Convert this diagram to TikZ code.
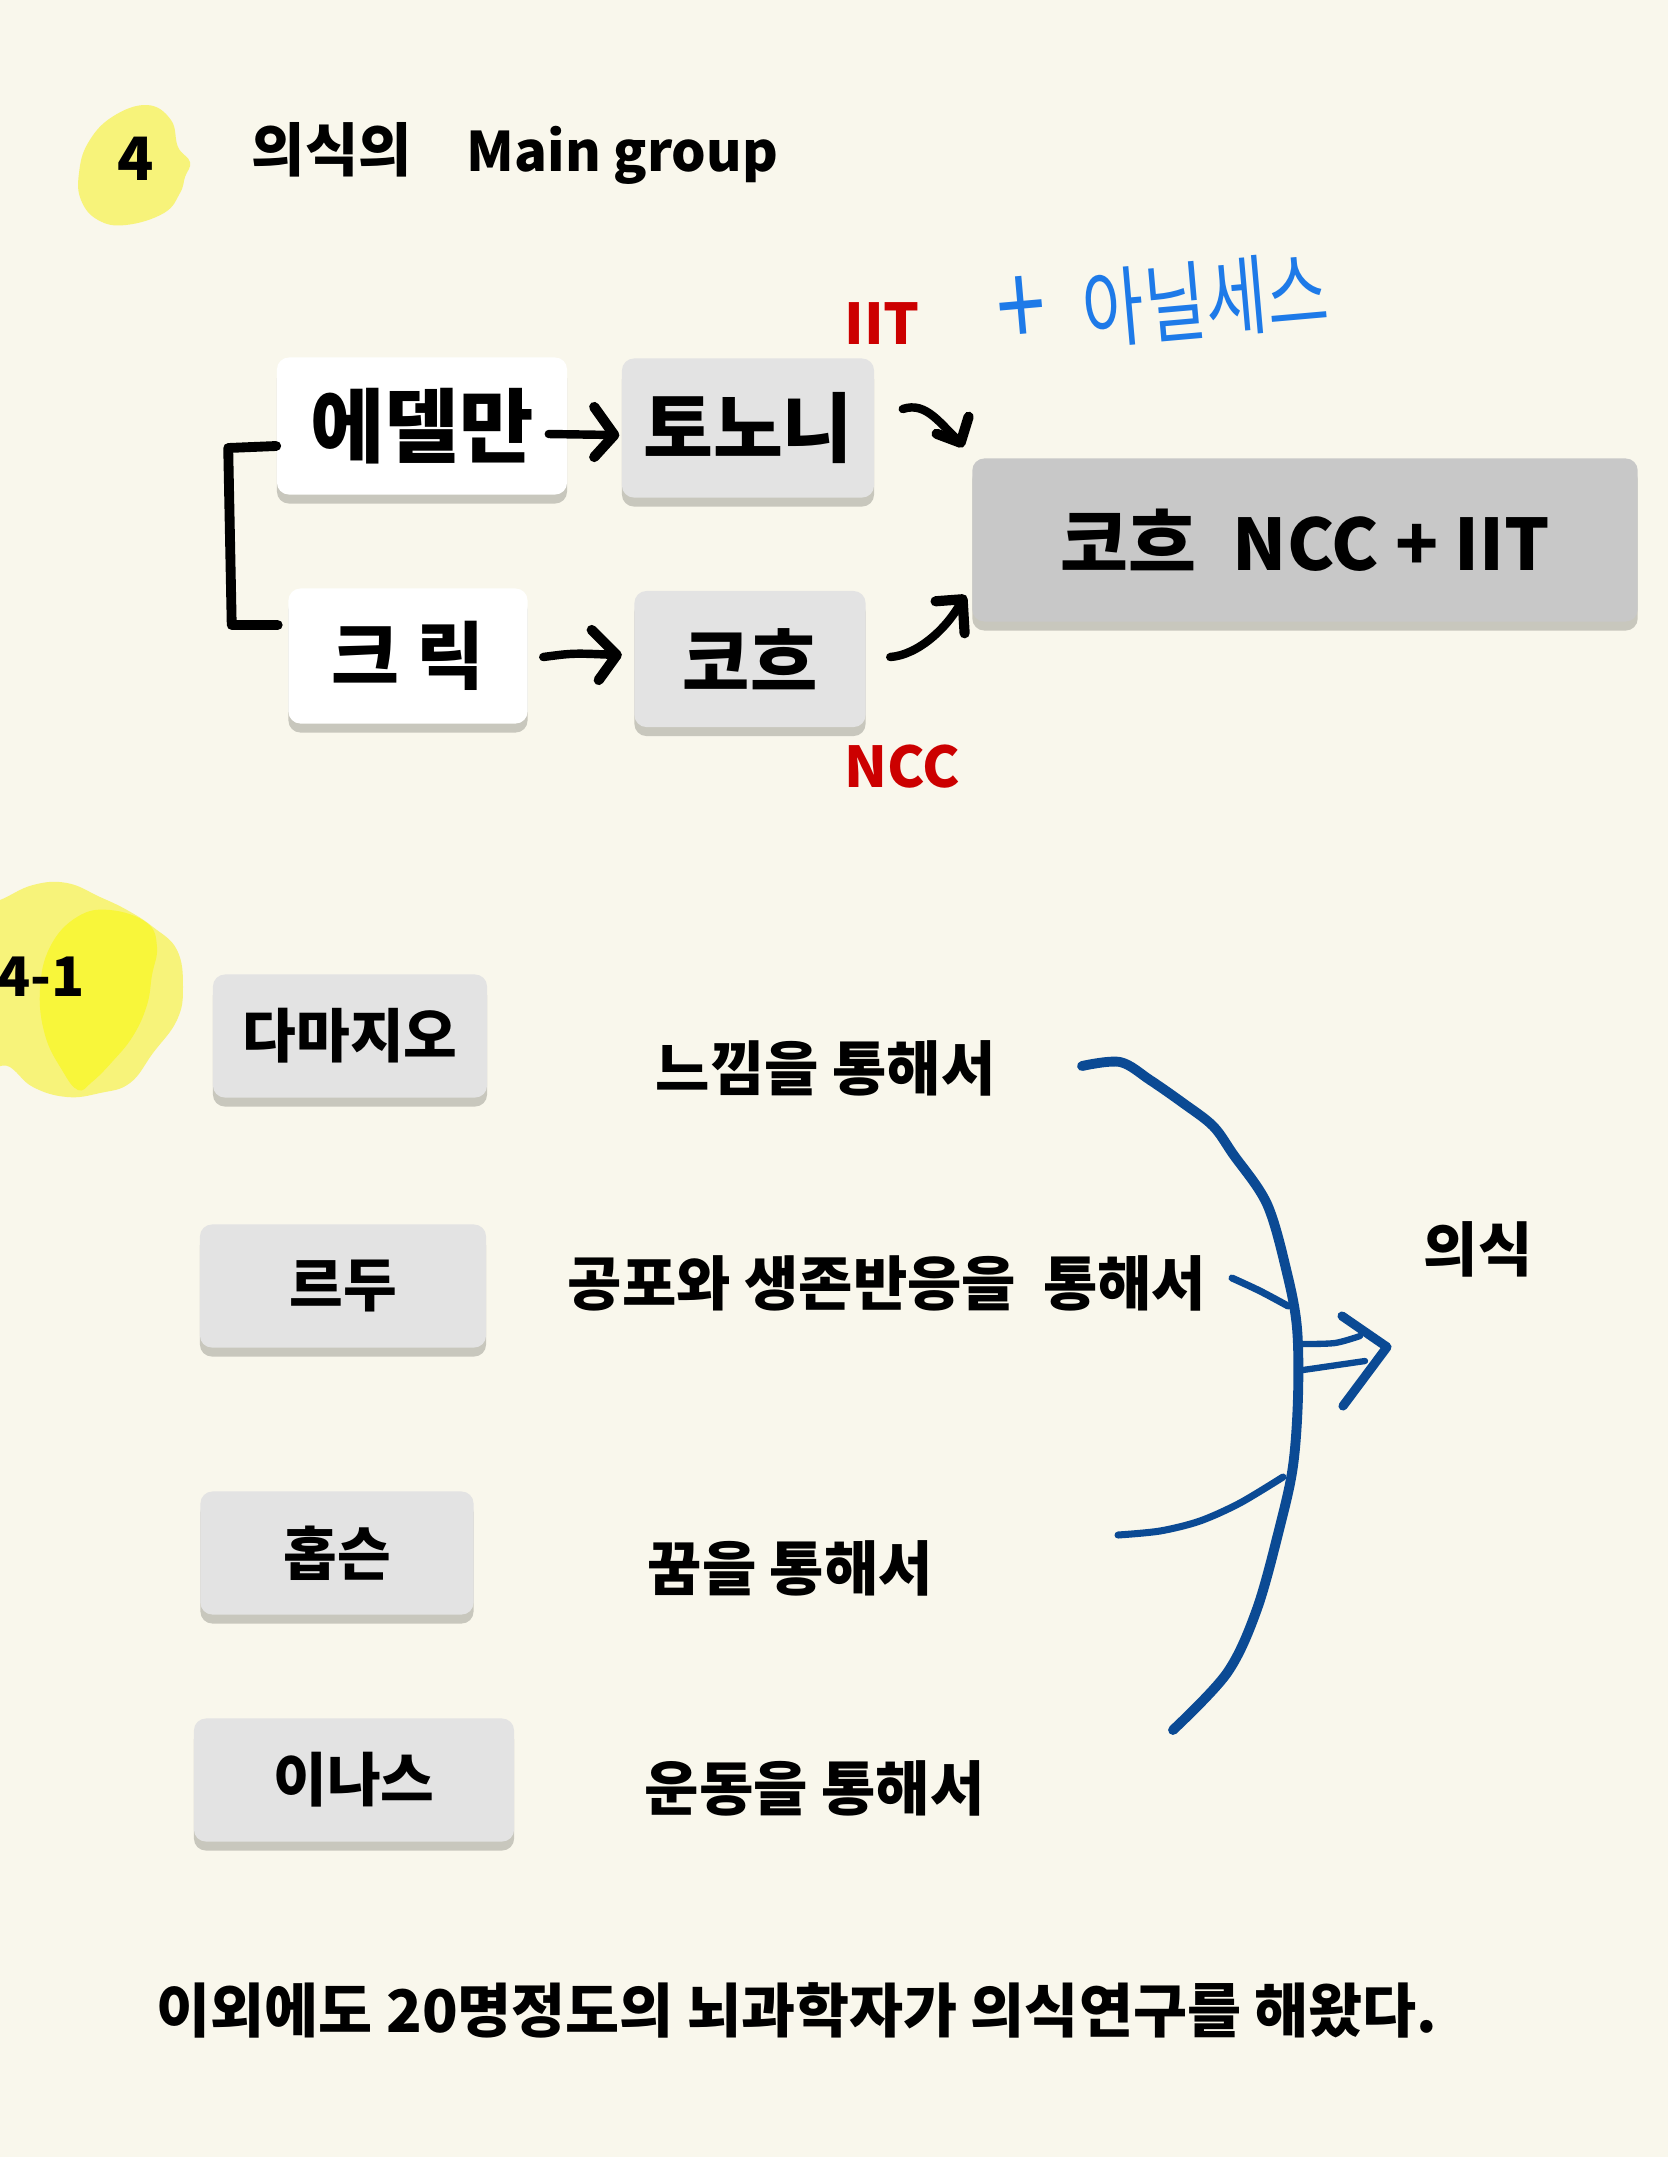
\documentclass[tikz,border=0pt]{standalone}
\usepackage{fontspec}
\setmainfont{Noto Sans CJK KR}
\usetikzlibrary{calc}
\definecolor{bgc}{RGB}{249,247,236}
\definecolor{lgray}{RGB}{227,227,227}
\definecolor{mgray}{RGB}{200,200,200}
\definecolor{shadowc}{RGB}{200,199,189}
\definecolor{redc}{RGB}{204,0,0}
\definecolor{bluec}{RGB}{11,74,148}
\definecolor{hblue}{RGB}{30,122,232}
\definecolor{yelpale}{RGB}{247,243,122}
\definecolor{yelbright}{RGB}{248,246,58}
\newcommand{\myfs}[1]{\fontsize{#1}{#1}\selectfont}
\tikzset{
  boxbase/.style={rounded corners=0.12cm, inner sep=0pt,
    preaction={fill=shadowc, transform canvas={yshift=-0.09cm}}},
  wbox/.style={boxbase, fill=white, font=\bfseries\myfs{21}},
  gbox/.style={boxbase, fill=lgray, font=\bfseries\myfs{21}},
  sbox/.style={boxbase, fill=lgray, font=\bfseries\myfs{16.6}, minimum height=1.23cm},
  bigbox/.style={boxbase, fill=mgray, font=\bfseries\myfs{21}},
  lbl/.style={inner sep=0pt, anchor=west, font=\bfseries\myfs{16.8}},
  redlbl/.style={inner sep=0pt, text=redc, font=\bfseries\myfs{16}},
  blk/.style={line width=2.4pt, line cap=round, line join=round, black},
  blkhead/.style={line width=2.9pt, line cap=round, line join=round, black},
  arcline/.style={line width=2.8pt, line cap=round, line join=round, bluec},
  branch/.style={line width=2pt, line cap=round, line join=round, bluec},
}
\begin{document}
\begin{tikzpicture}[x=0.01cm, y=-0.01cm]
\useasboundingbox (0,0) rectangle (1668,2157);
\fill[bgc] (0,0) rectangle (1668,2157);

% yellow highlight blobs
\fill[yelpale] plot[smooth cycle, tension=0.7] coordinates {(147,105) (171,120) (178,147) (190,162) (185,177) (180,193) (164,213) (126,225) (98,220) (81,200) (79,173) (88,143) (112,117)};
\fill[yelpale] plot[smooth cycle, tension=0.7] coordinates {(-20,905) (0,900) (33,885) (67,883) (100,897) (127,910) (153,927) (177,950) (183,987) (177,1020) (153,1053) (130,1083) (100,1093) (67,1097) (33,1087) (10,1067) (-20,1050)};
\fill[yelbright] plot[smooth cycle, tension=0.7] coordinates {(40,990) (50,947) (77,917) (110,910) (147,923) (157,947) (152,975) (147,1005) (133,1036) (112,1062) (92,1082) (78,1090) (62,1070) (45,1035)};

% titles
\node[inner sep=0pt, font=\bfseries\myfs{17}] (n4) at (136,159) {4};
\node[inner sep=0pt, anchor=west, font=\bfseries\myfs{16.5}] (title) at (251,153) {의식의\hspace{0.95em}{\myfs{15.5}Main group}};
\node[inner sep=0pt, anchor=west, font=\bfseries\myfs{15.5}] (n41) at (-3,977) {4-1};

% top diagram boxes
\node[wbox, minimum width=2.90cm, minimum height=1.37cm, font=\bfseries\myfs{23}] (edel) at (422,426) {에델만};
\node[gbox, minimum width=2.52cm, minimum height=1.39cm, font=\bfseries\myfs{21.6}] (tono) at (748,428) {토노니};
\node[wbox, minimum width=2.39cm, minimum height=1.35cm] (crick) at (408,656) {크 릭};
\node[gbox, minimum width=2.31cm, minimum height=1.36cm, font=\bfseries\myfs{20.8}] (koch) at (750,659) {코흐};
\node[bigbox, minimum width=6.65cm, minimum height=1.63cm] (big) at (1305,540) {코흐\hspace{0.5em}{\myfs{20.2}NCC + IIT}};

\node[redlbl] (iit) at (882,324) {IIT};
\node[redlbl] (ncc) at (902,767) {NCC};
\node[inner sep=0pt, text=hblue, font=\myfs{19}, rotate=5, yscale=1.3] (seth) at (1163,303) {{\myfs{25}+}\hspace{0.55em}아닐세스};

% bracket
\draw[line width=2.8pt, line cap=round, line join=round]
  ($(edel.west)+(0,20)$) -- ($(edel.west)+(-48,22)$)
  -- ($(crick.west)+(-56,-31)$) -- ($(crick.west)+(-10,-31)$);

% arrows top
\coordinate (e1s) at ($(edel.east)+(-19,8)$);
\coordinate (e1t) at ($(tono.west)+(-7,7)$);
\draw[blk] (e1s) -- (e1t);
\draw[blkhead] (e1t) ++(-20,-28) -- (e1t) -- ++(-20,22);

\coordinate (e2s) at ($(crick.east)+(15,1)$);
\coordinate (e2t) at ($(koch.west)+(-17,-4)$);
\draw[blk] (e2s) .. controls ($(e2s)+(30,-4)$) .. (e2t);
\draw[blkhead] (e2t) ++(-25,-25) -- (e2t) -- ++(-18,25);

\coordinate (a1s) at ($(tono.east)+(28,-19)$);
\coordinate (a1t) at ($(big.north west)+(-11,-15)$);
\draw[blk] (a1s) .. controls ($(a1s)+(24,-8)$) and ($(a1t)+(-20,-18)$) .. (a1t);
\draw[blkhead] (a1t) ++(8,-26) -- (a1t) -- ++(-24,-9);

\coordinate (a2s) at ($(koch.east)+(24,-2)$);
\coordinate (a2t) at ($(big.south west)+(-9,-23)$);
\draw[blk] (a2s) .. controls ($(a2s)+(28,-2)$) and ($(a2t)+(-14,28)$) .. (a2t);
\draw[blkhead] (a2t) ++(-27,2) -- (a2t) -- ++(2,34);

% section 4-1 boxes
\node[sbox, minimum width=2.74cm] (dam) at (350,1036) {다마지오};
\node[sbox, minimum width=2.86cm] (ledoux) at (343,1286) {르두};
\node[sbox, minimum width=2.73cm] (hobson) at (337,1553) {홉슨};
\node[sbox, minimum width=3.20cm] (llinas) at (354,1780) {이나스};

\node[lbl] (t1) at (655,1068) {느낌을 통해서};
\node[lbl] (t2) at (567,1283) {공포와 생존반응을\ \ 통해서};
\node[lbl] (t3) at (647,1568) {꿈을 통해서};
\node[lbl] (t4) at (644,1788) {운동을 통해서};
\node[lbl] (cons) at (1423,1249) {의식};

\node[lbl, font=\bfseries\myfs{16.7}] (bottom) at (156,2010) {이외에도 20명정도의 뇌과학자가 의식연구를 해왔다.};

% blue arcs
\draw[arcline] plot[smooth, tension=0.55] coordinates {(1082,1066) (1120,1062) (1150,1080) (1183,1103) (1213,1126) (1233,1154) (1267,1204) (1287,1273) (1297,1328) (1298,1397) (1293,1466) (1280,1526) (1257,1609) (1227,1673) (1173,1730)};
\draw[branch] plot[smooth, tension=0.5] coordinates {(1232,1278) (1260,1291) (1288,1306)};
\draw[branch] plot[smooth, tension=0.5] coordinates {(1118,1535) (1160,1531) (1200,1521) (1240,1503) (1283,1477)};
\draw[branch, line width=1.8pt] plot[smooth, tension=0.5] coordinates {(1303,1344) (1335,1343) (1360,1336)};
\draw[branch, line width=1.8pt] (1303,1370) -- (1365,1361);
\coordinate (ctip) at (1387,1347);
\draw[arcline, line width=2.6pt] (1342,1316) -- (ctip) -- (1343,1406);
\end{tikzpicture}
\end{document}
